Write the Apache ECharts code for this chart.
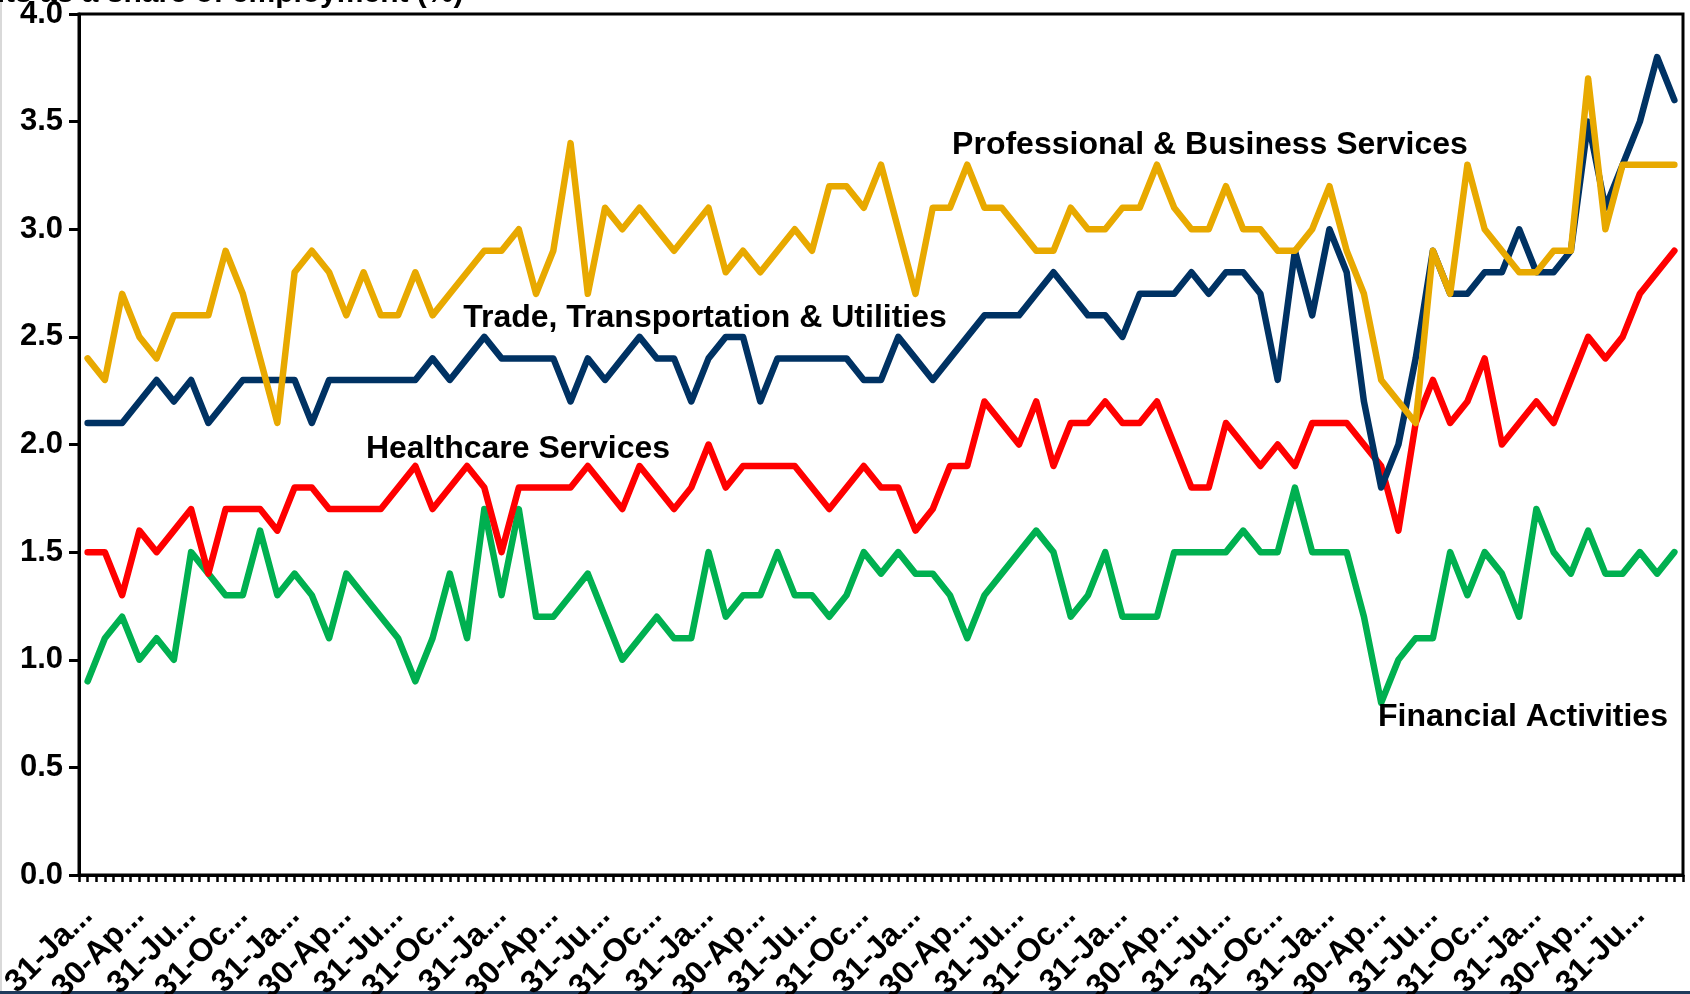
<!DOCTYPE html>
<html>
<head>
<meta charset="utf-8">
<title>Quits by industry</title>
<script src="https://cdn.jsdelivr.net/npm/echarts@6/dist/echarts.min.js"></script>
<style>
  html, body { margin:0; padding:0; background:#fff; }
  #main { width:1690px; height:994px; }
</style>
</head>
<body>
<div id="main"></div>
<script>
// month-end dates, Jan 2014 .. Sep 2021
const monthNames = ['Jan','Feb','Mar','Apr','May','Jun','Jul','Aug','Sep','Oct','Nov','Dec']
function monthEnds(startYear, count){
  let out = []
  for(let i=0;i<count;i++){
    let y = startYear + Math.floor(i/12), m = i%12
    let d = new Date(Date.UTC(y, m+1, 0)).getUTCDate()
    out.push(d + '-' + monthNames[m] + '-' + y)
  }
  return out
}
const months = monthEnds(2014, 93)
// half-month slots, only used to draw the dense tick marks under the axis
const halfMonths = months.flatMap(m => [m + 'a', m + 'b'])

const yTicks = [0, 0.5, 1, 1.5, 2, 2.5, 3, 3.5, 4]

const profBusiness = [2.4,2.3,2.7,2.5,2.4,2.6,2.6,2.6,2.9,2.7, 2.4,2.1,2.8,2.9,2.8,2.6,2.8,2.6,2.6,2.8,
  2.6,2.7,2.8,2.9,2.9,3.0,2.7,2.9,3.4,2.7, 3.1,3.0,3.1,3.0,2.9,3.0,3.1,2.8,2.9,2.8,
  2.9,3.0,2.9,3.2,3.2,3.1,3.3,3.0,2.7,3.1, 3.1,3.3,3.1,3.1,3.0,2.9,2.9,3.1,3.0,3.0,
  3.1,3.1,3.3,3.1,3.0,3.0,3.2,3.0,3.0,2.9, 2.9,3.0,3.2,2.9,2.7,2.3,2.2,2.1,2.9,2.7,
  3.3,3.0,2.9,2.8,2.8,2.9,2.9,3.7,3.0,3.3, 3.3,3.3,3.3]

const tradeTransport = [2.1,2.1,2.1,2.2,2.3,2.2,2.3,2.1,2.2,2.3, 2.3,2.3,2.3,2.1,2.3,2.3,2.3,2.3,2.3,2.3,
  2.4,2.3,2.4,2.5,2.4,2.4,2.4,2.4,2.2,2.4, 2.3,2.4,2.5,2.4,2.4,2.2,2.4,2.5,2.5,2.2,
  2.4,2.4,2.4,2.4,2.4,2.3,2.3,2.5,2.4,2.3, 2.4,2.5,2.6,2.6,2.6,2.7,2.8,2.7,2.6,2.6,
  2.5,2.7,2.7,2.7,2.8,2.7,2.8,2.8,2.7,2.3, 2.9,2.6,3.0,2.8,2.2,1.8,2.0,2.4,2.9,2.7,
  2.7,2.8,2.8,3.0,2.8,2.8,2.9,3.5,3.1,3.3, 3.5,3.8,3.6]

const healthcare = [1.5,1.5,1.3,1.6,1.5,1.6,1.7,1.4,1.7,1.7, 1.7,1.6,1.8,1.8,1.7,1.7,1.7,1.7,1.8,1.9,
  1.7,1.8,1.9,1.8,1.5,1.8,1.8,1.8,1.8,1.9, 1.8,1.7,1.9,1.8,1.7,1.8,2.0,1.8,1.9,1.9,
  1.9,1.9,1.8,1.7,1.8,1.9,1.8,1.8,1.6,1.7, 1.9,1.9,2.2,2.1,2.0,2.2,1.9,2.1,2.1,2.2,
  2.1,2.1,2.2,2.0,1.8,1.8,2.1,2.0,1.9,2.0, 1.9,2.1,2.1,2.1,2.0,1.9,1.6,2.1,2.3,2.1,
  2.2,2.4,2.0,2.1,2.2,2.1,2.3,2.5,2.4,2.5, 2.7,2.8,2.9]

const financial = [0.9,1.1,1.2,1.0,1.1,1.0,1.5,1.4,1.3,1.3, 1.6,1.3,1.4,1.3,1.1,1.4,1.3,1.2,1.1,0.9,
  1.1,1.4,1.1,1.7,1.3,1.7,1.2,1.2,1.3,1.4, 1.2,1.0,1.1,1.2,1.1,1.1,1.5,1.2,1.3,1.3,
  1.5,1.3,1.3,1.2,1.3,1.5,1.4,1.5,1.4,1.4, 1.3,1.1,1.3,1.4,1.5,1.6,1.5,1.2,1.3,1.5,
  1.2,1.2,1.2,1.5,1.5,1.5,1.5,1.6,1.5,1.5, 1.8,1.5,1.5,1.5,1.2,0.8,1.0,1.1,1.1,1.5,
  1.3,1.5,1.4,1.2,1.7,1.5,1.4,1.6,1.4,1.4, 1.5,1.4,1.5]

// drawing order: green, red, navy, gold (later ones on top)
const seriesNames = ['Financial Activities','Healthcare Services','Trade, Transportation & Utilities','Professional & Business Services']
const seriesColors = ['#00B050','#FF0000','#003263','#E8A900']
const seriesData = [financial, healthcare, tradeTransport, profBusiness]

const FONT = "'Liberation Sans', Arial, sans-serif"

var myChart = echarts.init(document.getElementById('main'))

function note(text, x, y){
  return { type: 'text', x: x, y: y, z: 100,
    style: { text: text, font: 'bold 32px ' + FONT, fill: '#000', align: 'center', verticalAlign: 'middle' } }
}

var option = {
  backgroundColor: '#fff',
  animation: false,
  title: {
    text: 'Quits as a share of employment (%)',
    left: -45,
    top: -21,
    padding: 0,
    textStyle: { fontFamily: FONT, fontSize: 30, fontWeight: 'bold', color: '#000' }
  },
  grid: {
    left: 79, right: 7, top: 14, bottom: 119,
    show: true, borderColor: '#000', borderWidth: 3,
    containLabel: false,
    outerBoundsMode: 'none'
  },
  xAxis: [{
    type: 'category',
    data: months,
    boundaryGap: true,
    axisLine: { lineStyle: { color: '#000', width: 3 } },
    axisTick: { show: false },
    axisLabel: {
      interval: 2,
      rotate: 45,
      margin: 36,
      color: '#000',
      fontFamily: FONT,
      fontSize: 32,
      fontWeight: 'bold',
      formatter: function(v){ return v.slice(0,5) + '...' }
    },
    splitLine: { show: false }
  }, {
    type: 'category',
    data: halfMonths,
    position: 'bottom',
    boundaryGap: true,
    axisLine: { show: false },
    axisTick: { show: true, interval: 0, length: 7, lineStyle: { color: '#000', width: 2.5 } },
    axisLabel: { show: false },
    splitLine: { show: false }
  }],
  yAxis: {
    type: 'value',
    min: yTicks[0],
    max: yTicks[yTicks.length-1],
    interval: 0.5,
    axisLine: { show: true, lineStyle: { color: '#000', width: 3 } },
    axisTick: { show: true, length: 10, lineStyle: { color: '#000', width: 3 } },
    axisLabel: {
      margin: 16,
      color: '#000',
      fontFamily: FONT,
      fontSize: 31,
      fontWeight: 'bold',
      formatter: function(v){ return v.toFixed(1) }
    },
    splitLine: { show: false }
  },
  series: seriesData.map((d,i)=>({
    name: seriesNames[i],
    type: 'line',
    xAxisIndex: 0,
    data: d,
    showSymbol: false,
    symbol: 'none',
    lineStyle: { color: seriesColors[i], width: 6.5, join: 'round', cap: 'round' },
    itemStyle: { color: seriesColors[i] }
  })),
  graphic: [
    note('Professional & Business Services', 1210, 145),
    note('Trade, Transportation & Utilities', 705, 318),
    note('Healthcare Services', 518, 449),
    note('Financial Activities', 1523, 717),
    { type: 'rect', shape: { x: 0, y: 0, width: 2, height: 994 }, style: { fill: '#d9d9d9' } },
    { type: 'rect', shape: { x: 0, y: 991, width: 1690, height: 3 }, style: { fill: '#1f3b5c' } }
  ]
}
myChart.setOption(option)
</script>
</body>
</html>
